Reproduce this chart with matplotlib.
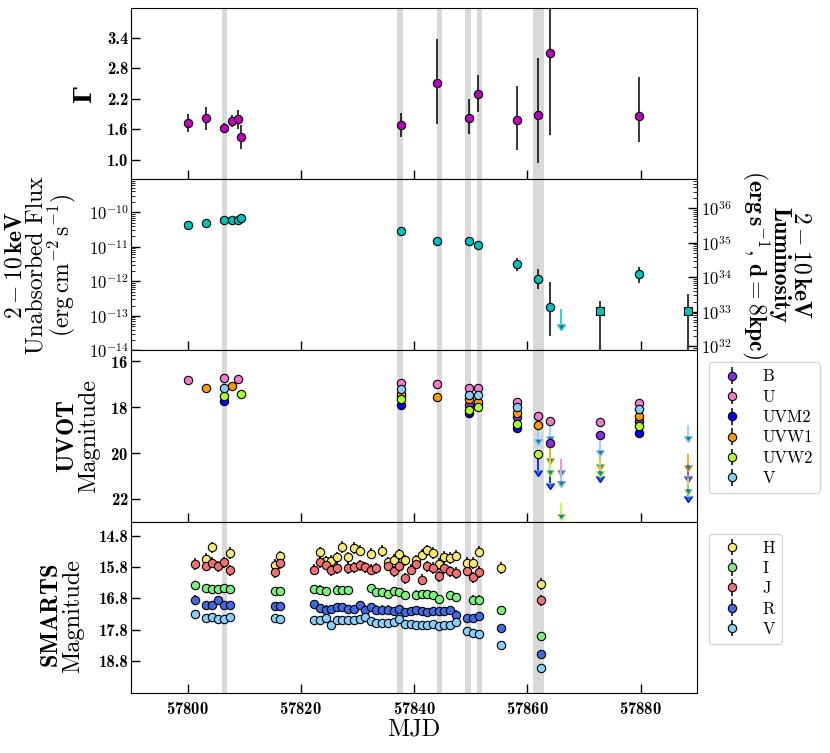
import numpy as np
import matplotlib
matplotlib.use("Agg")
import matplotlib.pyplot as plt
from matplotlib.ticker import FuncFormatter, LogLocator, NullFormatter, FormatStrFormatter

# Computer Modern look
plt.rcParams["font.family"] = "serif"
plt.rcParams["font.serif"] = ["cmr10"]
plt.rcParams["mathtext.fontset"] = "cm"
plt.rcParams["axes.formatter.use_mathtext"] = True
plt.rcParams["axes.unicode_minus"] = False

# ---- X-ray (Swift XRT) ----
xrt_mjd = [57800.05, 57803.3, 57806.4, 57807.9, 57808.9, 57809.35, 57837.6,
           57844.0, 57849.6, 57851.3, 57858.1, 57861.9, 57864.0, 57879.75]
gamma = [1.73, 1.83, 1.62, 1.77, 1.80, 1.45, 1.68, 2.52, 1.83, 2.29, 1.78, 1.89, 3.11, 1.87]
gamma_lo = [0.19, 0.24, 0.10, 0.12, 0.19, 0.24, 0.22, 0.81, 0.32, 0.34, 0.59, 0.95, 1.62, 0.52]
gamma_hi = [0.18, 0.22, 0.10, 0.11, 0.19, 0.23, 0.24, 0.86, 0.37, 0.38, 0.67, 1.12, 1.62, 0.76]

flux = [4.2e-11, 4.9e-11, 5.9e-11, 5.8e-11, 5.9e-11, 6.9e-11, 2.9e-11,
        1.5e-11, 1.5e-11, 1.16e-11, 3.1e-12, 1.2e-12, 1.77e-13, 1.58e-12]
flux_lo = [1e-12, 1e-12, 1e-12, 1e-12, 1e-12, 1e-12, 1e-12,
           2.5e-12, 1e-12, 1e-12, 1.1e-12, 5.9e-13, 1.5e-13, 6.7e-13]
flux_hi = [1e-12, 1e-12, 1e-12, 1e-12, 1e-12, 1e-12, 1e-12,
           2.5e-12, 1e-12, 1e-12, 1.6e-12, 1.1e-12, 7.7e-13, 9.8e-13]

# other X-ray points (squares) and the XRT upper limit
sq_mjd = [57872.8, 57888.4]
sq_flux = [1.43e-13, 1.43e-13]
sq_lo = [1.43e-13, 1.43e-13]
sq_hi = [1.32e-13, 2.9e-13]
ul_mjd = [57865.95]
ul_flux = [1.58e-13]

# ---- UVOT ----
uvot_bands = ["B", "U", "UVM2", "UVW1", "UVW2", "V"]
uvot_colors = ["#8a2be2", "#f27ccb", "#0000ff", "#ff9900", "#adff2f", "#87cefa"]
uvot_mjd = {
    "B": [57837.6, 57849.6, 57851.3, 57858.1, 57864.0, 57872.8, 57879.75],
    "U": [57800.05, 57806.4, 57808.9, 57837.6, 57844.0, 57849.6, 57851.3,
          57858.1, 57861.9, 57864.0, 57872.8, 57879.75],
    "UVM2": [57806.4, 57837.6, 57849.6, 57858.1, 57879.75],
    "UVW1": [57803.3, 57807.9, 57837.6, 57844.0, 57849.6, 57851.3, 57858.1, 57861.9, 57879.75],
    "UVW2": [57806.4, 57809.35, 57837.6, 57849.6, 57851.3, 57858.1, 57861.9, 57879.75],
    "V": [57806.4, 57837.6, 57849.6, 57851.3, 57858.1, 57879.75],
}
uvot_mag = {
    "B": [17.52, 17.88, 17.86, 18.41, 19.57, 19.23, 18.60],
    "U": [16.79, 16.72, 16.78, 16.94, 16.97, 17.15, 17.15, 17.76, 18.38, 18.61, 18.66, 17.80],
    "UVM2": [17.72, 17.92, 18.27, 18.89, 19.13],
    "UVW1": [17.18, 17.08, 17.40, 17.56, 17.66, 17.76, 18.27, 18.79, 18.38],
    "UVW2": [17.52, 17.40, 17.66, 18.12, 17.98, 18.73, 20.04, 18.82],
    "V": [17.14, 17.20, 17.46, 17.47, 17.98, 18.09],
}
uvot_err = {
    "B": [0.05, 0.05, 0.05, 0.06, 0.15, 0.12, 0.07],
    "U": [0.04, 0.04, 0.04, 0.04, 0.04, 0.04, 0.04, 0.05, 0.08, 0.15, 0.12, 0.05],
    "UVM2": [0.05, 0.05, 0.05, 0.07, 0.10],
    "UVW1": [0.04, 0.04, 0.04, 0.04, 0.04, 0.04, 0.06, 0.08, 0.06],
    "UVW2": [0.05, 0.05, 0.05, 0.05, 0.05, 0.07, 0.17, 0.08],
    "V": [0.04, 0.04, 0.04, 0.04, 0.05, 0.06],
}
# upper limits (fainter than)
uvot_ul_mjd = {
    "B": [57888.4],
    "U": [57865.95],
    "UVM2": [57861.9, 57864.0, 57872.8, 57888.4],
    "UVW1": [57864.0, 57865.95, 57872.8, 57888.4],
    "UVW2": [57864.0, 57865.95, 57872.8, 57888.4],
    "V": [57861.9, 57864.0, 57865.95, 57872.8, 57888.4],
}
uvot_ul_mag = {
    "B": [20.5],
    "U": [20.25],
    "UVM2": [20.22, 20.79, 20.5, 21.37],
    "UVW1": [19.71, 20.72, 20.0, 20.03],
    "UVW2": [20.22, 22.17, 20.29, 21.08],
    "V": [18.87, 18.75, 20.72, 19.35, 18.77],
}

# ---- SMARTS ----
smarts_mjd = [57801.3, 57803.3, 57804.3, 57805.3, 57806.4, 57807.4, 57815.35, 57816.35,
              57822.35, 57823.35, 57824.35, 57825.35, 57826.3, 57827.3, 57828.35, 57829.35,
              57830.35, 57831.35, 57832.3, 57833.3, 57834.35, 57835.35, 57836.35, 57837.35,
              57838.4, 57839.4, 57840.35, 57841.35, 57842.35, 57843.35, 57844.35, 57845.35,
              57846.4, 57847.4, 57849.35, 57850.35, 57851.4, 57855.4, 57862.35]
nan = np.nan
smarts_H = [nan, 15.53, 15.17, nan, nan, 15.35, 15.72, 15.46, nan, 15.33, 15.62, 15.60, 15.49,
            15.16, 15.49, 15.19, 15.28, nan, 15.37, nan, 15.29, 15.65, 15.56, 15.39, 15.59, nan,
            15.59, 15.40, 15.26, 15.35, 15.70, 15.48, 15.51, 15.44, 15.67, 15.67, 15.31, 15.83, 16.34]
smarts_I = [16.39, 16.47, 16.50, 16.49, 16.47, 16.51, 16.56, 16.56, 16.50, 16.52, 16.57, nan, 16.52,
            16.55, 16.55, nan, nan, nan, 16.47, 16.61, 16.61, 16.65, 16.57, 16.60, 16.71, nan,
            16.68, 16.65, 16.65, 16.71, 16.82, nan, 16.71, 16.77, nan, 16.84, 16.84, 17.19, 18.00]
smarts_J = [15.70, 15.76, 15.66, 15.78, 15.65, 15.90, 15.97, 15.67, 15.88, 15.65, 15.72, 15.90, 15.83,
            nan, 15.83, 15.81, 15.74, 15.81, 15.88, 15.84, nan, 15.76, 15.94, 15.78, 16.16, 15.88,
            15.69, 16.20, 15.78, 15.83, 16.10, 15.83, 15.94, 15.99, 15.92, 16.13, 15.96, nan, 16.87]
smarts_R = [16.84, 17.03, 17.01, 16.87, 17.03, 17.03, 17.05, 17.05, 16.98, 17.10, 17.16, 17.14, 17.08,
            17.07, 17.14, 17.13, 17.03, 17.16, 17.08, 17.16, 17.16, 17.16, 17.21, 17.14, 17.24, 17.22,
            17.18, 17.21, 17.24, 17.21, 17.22, 17.22, 17.19, 17.32, 17.42, 17.42, 17.38, 17.74, 18.59]
smarts_V = [17.30, 17.42, 17.40, 17.47, 17.45, 17.40, 17.42, 17.47, 17.48, 17.50, 17.42, 17.65, 17.51,
            17.50, 17.48, 17.48, 17.45, 17.40, 17.54, 17.58, 17.58, 17.58, 17.57, 17.46, 17.61, 17.63,
            17.65, 17.65, 17.65, 17.63, 17.69, 17.67, 17.65, 17.57, 17.85, 17.90, 17.94, 18.31, 19.04]
smarts_bands = ["H", "I", "J", "R", "V"]
smarts_colors = ["#fbe870", "#7def7d", "#f07070", "#3f6ae0", "#87cefa"]
smarts_err = [0.18, 0.13, 0.18, 0.13, 0.12]

# grey bands (MJD ranges)
bands = [(57806.0, 57807.0), (57837.0, 57838.0), (57844.0, 57845.0),
         (57849.0, 57850.0), (57851.1, 57852.0), (57861.0, 57863.0)]

d_cm = 8 * 3.086e21
conv = 4 * np.pi * d_cm ** 2

fig, axes = plt.subplots(4, 1, figsize=(8.3, 7.53), dpi=100, sharex=True)
fig.subplots_adjust(left=0.158, right=0.840, top=0.9894, bottom=0.0797, hspace=0)
ax_g, ax_f, ax_u, ax_s = axes

ms = 6
for ax in axes:
    for a, b in bands:
        ax.axvspan(a, b, color="#d9d9d9", lw=0, zorder=0)
    ax.tick_params(axis="x", direction="in", length=6.5, width=1, labelsize=12, pad=5,
                   labelfontfamily="cmb10", top=False)
    ax.tick_params(axis="y", which="major", direction="in", length=6.5, width=1, labelsize=12,
                   pad=2, labelfontfamily="cmb10", right=False)

# Gamma
ax_g.errorbar(xrt_mjd, gamma, yerr=[gamma_lo, gamma_hi], fmt="o", color="m", mec="k",
              mew=0.8, ms=ms, ecolor="k", elinewidth=1.1, zorder=3)
ax_g.set_ylim(0.62, 3.99)
ax_g.set_yticks([1.0, 1.6, 2.2, 2.8, 3.4])
ax_g.yaxis.set_major_formatter(FormatStrFormatter("%.1f"))
ax_g.set_ylabel("Γ", fontsize=17, fontfamily="DejaVu Serif", fontweight="bold")
ax_g.yaxis.set_label_coords(-0.062, 0.5)

# Flux
bold_pow = FuncFormatter(lambda v, p: r"$\mathbf{10^{%d}}$" % round(np.log10(v)))
ax_f.set_yscale("log")
ax_f.errorbar(xrt_mjd, flux, yerr=[flux_lo, flux_hi], fmt="o", color="c", mec="k",
              mew=0.8, ms=ms, ecolor="k", elinewidth=1.1, zorder=3)
ax_f.errorbar(sq_mjd, sq_flux, yerr=[sq_lo, sq_hi], fmt="s", color="c", mec="k",
              mew=0.8, ms=ms, ecolor="k", elinewidth=1.1, zorder=3)
ax_f.errorbar(ul_mjd, ul_flux, yerr=[[1.0e-13], [0]], uplims=True, fmt="none",
              ecolor="darkturquoise", elinewidth=1.2, capsize=0, zorder=3)
ax_f.set_ylim(1e-14, 9e-10)
ax_f.yaxis.set_major_locator(LogLocator(base=10, numticks=10))
ax_f.yaxis.set_minor_locator(LogLocator(base=10, subs=np.arange(2, 10), numticks=10))
ax_f.yaxis.set_major_formatter(bold_pow)
ax_f.yaxis.set_minor_formatter(NullFormatter())
ax_f.tick_params(axis="y", which="minor", direction="in", length=3)
ax_f.set_ylabel("$\\mathbf{2-10\\,keV}$\nUnabsorbed Flux\n$(\\mathrm{erg\\,cm^{-2}\\,s^{-1}})$",
                fontsize=17, linespacing=0.95)
ax_f.yaxis.set_label_coords(-0.094, 0.5)

sec = ax_f.secondary_yaxis("right", functions=(lambda f: f * conv, lambda l: l / conv))
sec.yaxis.set_major_locator(LogLocator(base=10, numticks=10))
sec.yaxis.set_minor_locator(LogLocator(base=10, subs=np.arange(2, 10), numticks=10))
sec.yaxis.set_major_formatter(bold_pow)
sec.yaxis.set_minor_formatter(NullFormatter())
sec.tick_params(axis="y", which="major", direction="in", length=6.5, width=1, labelsize=12,
                pad=3, labelfontfamily="cmb10")
sec.tick_params(axis="y", which="minor", direction="in", length=3)
# right-hand luminosity label
fig.text(0.891, 0.648,
         "$\\mathbf{2-10\\,keV}$\nLuminosity\n$\\mathbf{(erg\\,s^{-1},\\,d=8kpc)}$",
         fontsize=17, fontfamily="cmb10", rotation=270, ha="left", va="center",
         rotation_mode="default", linespacing=0.9, multialignment="center")

# UVOT
ax_u.set_ylim(23.0, 15.52)
for band, col in zip(uvot_bands, uvot_colors):
    ax_u.errorbar(uvot_mjd[band], uvot_mag[band], yerr=uvot_err[band], fmt="o", color=col,
                  mec="k", mew=0.8, ms=ms, ecolor="k", elinewidth=1.1, zorder=3, label=band)
    n = len(uvot_ul_mjd[band])
    ax_u.errorbar(uvot_ul_mjd[band], uvot_ul_mag[band], yerr=[[0] * n, [0.5] * n],
                  lolims=True, fmt="none", ecolor=col, elinewidth=1.2, capsize=0,
                  zorder=2.5)
ax_u.set_yticks([16, 18, 20, 22])
ax_u.set_ylabel("$\\mathbf{UVOT}$\nMagnitude", fontsize=17.5, linespacing=0.95)
ax_u.yaxis.set_label_coords(-0.055, 0.5)
ax_u.legend(loc="upper left", bbox_to_anchor=(1.021, 0.93), fontsize=12,
            labelspacing=0.3, handlelength=2.0, borderaxespad=0)

# SMARTS
ax_s.set_ylim(19.83, 14.35)
for band, col, vals, err in zip(smarts_bands, smarts_colors,
                                [smarts_H, smarts_I, smarts_J, smarts_R, smarts_V], smarts_err):
    ax_s.errorbar(smarts_mjd, vals, yerr=err, fmt="o", color=col, mec="k", mew=0.8, ms=ms,
                  ecolor="k", elinewidth=1.1, zorder=3, label=band)
ax_s.set_yticks([14.8, 15.8, 16.8, 17.8, 18.8])
ax_s.yaxis.set_major_formatter(FormatStrFormatter("%.1f"))
ax_s.set_ylabel("$\\mathbf{SMARTS}$\nMagnitude", fontsize=17.5, linespacing=0.95)
ax_s.yaxis.set_label_coords(-0.083, 0.45)
ax_s.legend(loc="upper left", bbox_to_anchor=(1.021, 0.93), fontsize=12,
            labelspacing=0.3, handlelength=2.0, borderaxespad=0)

ax_s.set_xlim(57790, 57890)
ax_s.set_xticks([57800, 57820, 57840, 57860, 57880])
ax_s.set_xlabel("MJD", fontsize=17.5, labelpad=1)

fig.savefig("out.png", dpi=100)
